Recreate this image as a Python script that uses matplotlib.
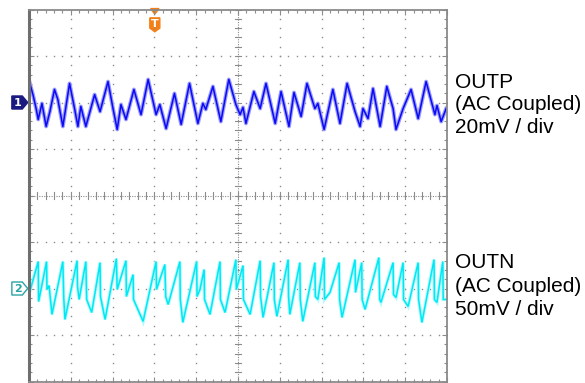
import numpy as np
import matplotlib
matplotlib.use("Agg")
import matplotlib.pyplot as plt
from matplotlib.patches import Polygon

# Канал 1 (OUTP): час у поділках, напруга в мВ
t1 = [0.01, 0.10, 0.17, 0.22, 0.31, 0.41, 0.50, 0.61, 0.69, 0.81, 0.97, 1.09, 1.17, 1.24,
      1.36, 1.57, 1.70, 1.89, 2.01, 2.11, 2.20, 2.32, 2.51, 2.68, 2.85, 3.04, 3.13, 3.28,
      3.48, 3.64, 3.84, 4.04, 4.16, 4.23, 4.40, 4.59, 4.78, 4.95, 5.05, 5.12, 5.19, 5.38,
      5.53, 5.67, 5.89, 6.03, 6.22, 6.34, 6.51, 6.65, 6.84, 6.91, 7.06, 7.27, 7.44, 7.61,
      7.80, 7.92, 7.99, 8.11, 8.23, 8.40, 8.56, 8.71, 8.78, 8.95, 9.14, 9.31, 9.50, 9.71,
      9.76, 9.86, 9.98]
mv1 = [9.0, 3.0, -2.6, -7.3, -0.4, -10.3, -3.9, 5.6, 1.3, -10.3, 8.2, -2.6, -10.3, -1.7,
       -10.3, 3.4, -3.9, 9.0, -2.6, -11.6, -0.9, -7.3, 5.6, -5.2, 9.9, -5.2, -0.9, -11.2,
       3.9, -9.4, 8.2, -9.0, -0.4, -3.0, 6.9, -8.2, 9.9, -0.9, -5.2, -2.1, -9.0, 4.7,
       -2.6, 8.2, -9.0, 4.7, -10.3, 4.3, -6.0, 8.2, -2.6, -0.4, -11.6, 5.6, -9.0, 8.2,
       -3.9, -10.3, -2.6, -6.9, 6.0, -10.3, 6.9, -2.6, -11.6, -2.6, 5.6, -6.9, 9.0, -5.2,
       -1.3, -8.2, -2.6]

# Канал 2 (OUTN): пилоподібний сигнал
t2 = [0.02, 0.22, 0.23, 0.42, 0.43, 0.48, 0.55, 0.81, 0.83, 0.86, 1.15, 1.16, 1.20, 1.36,
      1.38, 1.50, 1.70, 1.71, 1.82, 2.09, 2.11, 2.32, 2.33, 2.49, 2.50, 2.73, 3.04, 3.05,
      3.25, 3.27, 3.33, 3.61, 3.62, 3.68, 4.01, 4.02, 4.09, 4.19, 4.20, 4.33, 4.57, 4.58,
      4.69, 4.95, 4.96, 5.12, 5.13, 5.29, 5.53, 5.54, 5.60, 5.86, 5.87, 5.93, 6.20, 6.21,
      6.24, 6.48, 6.49, 6.55, 6.84, 6.85, 6.91, 7.06, 7.07, 7.20, 7.42, 7.43, 7.49, 7.80,
      7.81, 7.96, 7.97, 8.04, 8.37, 8.39, 8.42, 8.71, 8.72, 8.78, 8.95, 8.96, 9.07, 9.31,
      9.32, 9.40, 9.69, 9.70, 9.76, 9.90, 9.91, 9.98]
mv2 = [-3.2, 29.0, -14.0, 29.0, -1.1, 3.2, -27.9, 29.0, -8.6, -33.3, 30.0, 2.1, -11.8, 29.0,
       -11.8, -25.8, 27.9, -8.6, -33.3, 32.2, -1.1, 30.0, -8.6, 15.0, -11.8, -35.4, 29.0, -1.1,
       25.8, -8.6, -17.2, 29.0, -11.8, -36.5, 29.0, -8.6, -1.1, 20.4, -11.8, -27.9, 29.0, -11.8,
       -25.8, 31.1, -1.1, 24.7, -11.8, -27.9, 30.0, -8.6, -31.1, 27.9, -11.8, -30.0, 31.1, -8.6,
       -27.9, 27.9, -11.8, -35.4, 27.9, -8.6, -11.8, 33.3, -11.8, -4.3, 27.9, -11.8, -31.1, 31.1,
       -4.3, 27.9, -11.8, -22.5, 33.3, -11.8, -15.0, 27.9, -6.4, -9.7, 27.9, -11.8, -19.3, 27.9,
       -11.8, -36.5, 31.1, -11.8, -15.0, 29.0, -11.8, -11.8]

scale1, offset1 = 20, 2    # мВ/под., положення маркера 1
scale2, offset2 = 50, -2   # мВ/под., положення маркера 2
trig_t = 3.01

labels1 = ["OUTP", "(AC Coupled)", "20mV / div"]
labels2 = ["OUTN", "(AC Coupled)", "50mV / div"]

fig = plt.figure(figsize=(5.85, 3.83), dpi=100)
ax = fig.add_axes([29 / 585, 1.5 / 383, 418 / 585, 372 / 383])
ax.set_xlim(0, 10)
ax.set_ylim(-4, 4)

# Сітка з крапок
grid_c = "#8c8c8c"
ys = np.arange(-4, 4.01, 0.2)
xs = np.arange(0, 10.01, 0.2)
for gx in range(1, 10):
    if gx == 5:
        continue
    ax.plot(np.full_like(ys, gx), ys, ls="none", marker="s", ms=1.0, mew=0, color=grid_c)
for gy in range(-3, 4):
    if gy == 0:
        continue
    ax.plot(xs, np.full_like(xs, gy), ls="none", marker="s", ms=1.0, mew=0, color=grid_c)

# Центральне перехрестя
ax.plot([0, 10], [0, 0], color=grid_c, lw=0.8, ls=(0, (1, 1.2)))
ax.plot([5, 5], [-4, 4], color=grid_c, lw=0.8, ls=(0, (1, 1.2)))
for x in xs:
    ax.plot([x, x], [-0.07, 0.07], color=grid_c, lw=0.8)
for y in ys:
    ax.plot([4.93, 5.07], [y, y], color=grid_c, lw=0.8)

# Рамка та мітки
for s in ax.spines.values():
    s.set_color("#8a8a8a")
    s.set_linewidth(1.3)
ax.spines["left"].set_color("#6e6e6e")
ax.spines["left"].set_linewidth(2.2)
ax.set_xticks(range(0, 11))
ax.set_yticks(range(-4, 5))
ax.set_xticks(xs, minor=True)
ax.set_yticks(ys, minor=True)
ax.tick_params(which="both", direction="in", top=True, right=True, labelbottom=False,
               labelleft=False, color=grid_c)
ax.tick_params(which="major", length=3.5, width=0.8)
ax.tick_params(which="minor", length=2, width=0.8)

# Осцилограми
y1 = np.array(mv1) / scale1 + offset1
y2 = np.array(mv2) / scale2 + offset2
ax.plot(t1, y1, color="#9a9aff", lw=2.8, solid_joinstyle="round")
ax.plot(t1, y1, color="#0a0af5", lw=1.1, solid_joinstyle="round")
ax.plot(t2, y2, color="#aefcff", lw=2.4, solid_joinstyle="miter")
ax.plot(t2, y2, color="#00e8f4", lw=1.1, solid_joinstyle="miter")

# Маркер тригера
orange = "#f57f17"
ax.add_patch(Polygon([[trig_t - 0.1, 4.02], [trig_t + 0.1, 4.02], [trig_t, 3.9]],
                     closed=True, color=orange, clip_on=False))
ax.add_patch(Polygon([[trig_t - 0.12, 3.82], [trig_t + 0.12, 3.82], [trig_t + 0.12, 3.6],
                      [trig_t, 3.52], [trig_t - 0.12, 3.6]], closed=True, color=orange))
ax.text(trig_t, 3.69, "T", color="white", fontsize=8, fontweight="bold",
        ha="center", va="center", family="DejaVu Sans")

# Маркери каналів
def chan_marker(yc, face, edge, txt, tcol):
    pts = [[-0.41, yc + 0.14], [-0.16, yc + 0.14], [-0.03, yc], [-0.16, yc - 0.14],
           [-0.41, yc - 0.14]]
    ax.add_patch(Polygon(pts, closed=True, facecolor=face, edgecolor=edge, lw=1,
                         clip_on=False))
    ax.text(-0.27, yc, txt, color=tcol, fontsize=8, fontweight="bold", ha="center",
            va="center", clip_on=False)

chan_marker(offset1, "#1a1a80", "#1a1a80", "1", "white")
chan_marker(offset2, "white", "#2aa3a3", "2", "#2aa3a3")

# Підписи справа
for i, s in enumerate(labels1):
    fig.text(455 / 585, 1 - (88 + 22.5 * i) / 383, s, fontsize=15,
             family="Liberation Sans", va="baseline")
for i, s in enumerate(labels2):
    fig.text(455 / 585, 1 - (268 + 23.5 * i) / 383, s, fontsize=15,
             family="Liberation Sans", va="baseline")

fig.savefig("out.png", dpi=100)
